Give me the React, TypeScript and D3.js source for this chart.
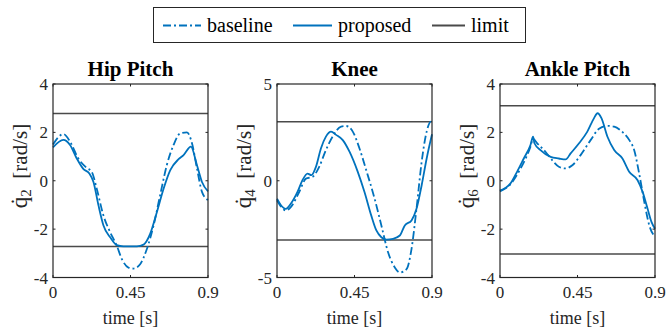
import React from 'react';
import * as d3 from 'd3';

// [time s, joint velocity rad/s]
const hipBaseline: [number, number][] = [
  [0, 1.5], [0.06, 1.93], [0.099, 1.62], [0.147, 0.92], [0.196, 0.53], [0.225, 0.37],
  [0.254, -0.33], [0.293, -1.44], [0.332, -2.13], [0.37, -2.68], [0.4, -3.24],
  [0.438, -3.59], [0.467, -3.63], [0.506, -3.45], [0.545, -2.82], [0.584, -1.85],
  [0.622, -0.6], [0.661, 0.65], [0.7, 1.48], [0.739, 1.96], [0.778, 2.0],
  [0.807, 1.55], [0.836, 0.51], [0.865, -0.46], [0.9, -0.8],
];
const hipProposed: [number, number][] = [
  [0, 1.38], [0.06, 1.69], [0.099, 1.48], [0.138, 0.92], [0.177, 0.48], [0.211, 0.3],
  [0.235, -0.05], [0.264, -1.02], [0.293, -1.85], [0.332, -2.34], [0.37, -2.66],
  [0.409, -2.71], [0.487, -2.71], [0.526, -2.64], [0.564, -2.2], [0.603, -1.3],
  [0.642, -0.33], [0.681, 0.44], [0.729, 0.89], [0.758, 1.06], [0.801, 1.41],
  [0.836, 0.64], [0.865, -0.05], [0.9, -0.44],
];
const kneeBaseline: [number, number][] = [
  [0, -1.01], [0.051, -1.53], [0.08, -1.36], [0.129, -0.58], [0.168, 0.11], [0.206, 0.2],
  [0.245, 0.72], [0.284, 1.59], [0.323, 2.28], [0.372, 2.8], [0.401, 2.83],
  [0.44, 2.54], [0.479, 1.67], [0.518, 0.55], [0.567, -0.93], [0.606, -2.31],
  [0.645, -3.7], [0.684, -4.48], [0.713, -4.74], [0.752, -4.57], [0.781, -3.53],
  [0.81, -1.45], [0.84, 0.98], [0.869, 2.54], [0.894, 3.06], [0.9, 3.0],
];
const kneeProposed: [number, number][] = [
  [0, -0.93], [0.021, -1.24], [0.051, -1.45], [0.08, -1.19], [0.119, -0.58],
  [0.148, 0.03], [0.177, 0.37], [0.2, 0.29], [0.226, 0.72], [0.255, 1.67],
  [0.284, 2.28], [0.314, 2.54], [0.343, 2.37], [0.382, 2.1], [0.421, 1.5],
  [0.469, 0.46], [0.508, -0.58], [0.547, -1.79], [0.577, -2.57], [0.606, -2.92],
  [0.635, -3.04], [0.674, -3.0], [0.713, -2.83], [0.742, -2.31], [0.781, -2.05],
  [0.81, -1.45], [0.84, -0.23], [0.869, 1.15], [0.9, 2.4],
];
const ankleBaseline: [number, number][] = [
  [0, -0.44], [0.06, -0.15], [0.119, 0.5], [0.177, 1.41], [0.192, 1.73], [0.216, 1.55],
  [0.264, 1.2], [0.303, 0.85], [0.342, 0.58], [0.381, 0.51], [0.42, 0.64],
  [0.468, 1.06], [0.527, 1.69], [0.575, 2.15], [0.624, 2.27], [0.663, 2.24],
  [0.702, 2.07], [0.75, 1.69], [0.779, 1.27], [0.808, 0.3], [0.838, -0.88],
  [0.867, -1.85], [0.9, -2.32],
];
const ankleProposed: [number, number][] = [
  [0, -0.41], [0.031, -0.3], [0.06, -0.12], [0.099, 0.37], [0.138, 0.92], [0.177, 1.48],
  [0.192, 1.82], [0.2, 1.55], [0.235, 1.27], [0.294, 0.99], [0.342, 0.92],
  [0.381, 0.88], [0.41, 1.13], [0.459, 1.55], [0.507, 2.03], [0.546, 2.59],
  [0.566, 2.79], [0.589, 2.59], [0.624, 1.82], [0.663, 1.27], [0.711, 0.92],
  [0.75, 0.37], [0.799, 0.02], [0.828, -0.46], [0.857, -1.16], [0.88, -1.71],
  [0.9, -1.98],
];

const titles = ['Hip Pitch', 'Knee', 'Ankle Pitch'];
const jointIndex = ['2', '4', '6'];
const yDomains: [number, number][] = [[-4, 4], [-5, 5], [-4, 4]];
const yTicks = [[-4, -2, 0, 2, 4], [-5, 0, 5], [-4, -2, 0, 2, 4]];
const limits: [number, number][] = [[-2.72, 2.78], [-3.06, 3.05], [-3.03, 3.1]];
const xTicks = [0, 0.45, 0.9];
const xTickLabels = ['0', '0.45', '0.9'];
const baselines = [hipBaseline, kneeBaseline, ankleBaseline];
const proposeds = [hipProposed, kneeProposed, ankleProposed];
const legendLabels = ['baseline', 'proposed', 'limit'];

const BLUE = '#0072BD';
const AXIS = '#262626';
const LIMIT = '#4a4a4a';
const DASH = '8,3,2,3';

const panelLeft = [53, 277, 500];
const panelWidth = 155;
const top = 84;
const bottom = 277.5;

const Panel: React.FC<{ i: number }> = ({ i }) => {
  const left = panelLeft[i];
  const x = d3.scaleLinear().domain([0, 0.9]).range([left, left + panelWidth]);
  const y = d3.scaleLinear().domain(yDomains[i]).range([bottom, top]);
  const line = d3
    .line<[number, number]>()
    .x(d => x(d[0]))
    .y(d => y(d[1]))
    .curve(d3.curveMonotoneX);

  return (
    <g>
      {limits[i].map(v => (
        <line key={v} x1={x(0)} x2={x(0.9)} y1={y(v)} y2={y(v)} stroke={LIMIT} strokeWidth={1.6} />
      ))}
      <path d={line(baselines[i]) || ''} fill="none" stroke={BLUE} strokeWidth={1.8} strokeDasharray={DASH} />
      <path d={line(proposeds[i]) || ''} fill="none" stroke={BLUE} strokeWidth={1.8} />
      <rect x={left} y={top} width={panelWidth} height={bottom - top} fill="none" stroke={AXIS} strokeWidth={1.2} />

      {yTicks[i].map(v => (
        <g key={v}>
          <line x1={left} x2={left + 2.5} y1={y(v)} y2={y(v)} stroke={AXIS} />
          <line x1={left + panelWidth} x2={left + panelWidth - 2.5} y1={y(v)} y2={y(v)} stroke={AXIS} />
          <text x={left - 5} y={y(v) + 6} textAnchor="end" fontSize={17} fill={AXIS}>
            {String(v)}
          </text>
        </g>
      ))}

      {xTicks.map((v, k) => (
        <g key={v}>
          <line x1={x(v)} x2={x(v)} y1={bottom} y2={bottom - 2.5} stroke={AXIS} />
          <line x1={x(v)} x2={x(v)} y1={top} y2={top + 2.5} stroke={AXIS} />
          <text x={x(v)} y={298} textAnchor="middle" fontSize={17} fill={AXIS}>
            {xTickLabels[k]}
          </text>
        </g>
      ))}

      <text x={left + panelWidth / 2} y={324} textAnchor="middle" fontSize={18} fill={AXIS}>
        time [s]
      </text>
      <text x={left + panelWidth / 2} y={76} textAnchor="middle" fontSize={21} fontWeight="bold" fill="#000">
        {titles[i]}
      </text>
      <text
        transform={`translate(${left - 26},166) rotate(-90)`}
        textAnchor="middle"
        fontSize={21}
        fill={AXIS}
      >
        <tspan fontSize={23}>{'q\u0307'}</tspan>
        <tspan fontSize={15} dy={4}>{jointIndex[i]}</tspan>
        <tspan dy={-4}>{'\u2002[rad/s]'}</tspan>
      </text>
    </g>
  );
};

const App: React.FC = () => {
  const sampleX = [163, 293, 432];
  const sampleW = [38, 39, 33];
  const styles = [
    { c: BLUE, dash: DASH },
    { c: BLUE, dash: undefined },
    { c: LIMIT, dash: undefined },
  ];
  return (
    <svg
      width={667}
      height={331}
      style={{ position: 'absolute', left: 0, top: 0, background: '#fff' }}
      fontFamily="Liberation Serif"
    >
      <rect x={153.5} y={7.5} width={372} height={35} fill="#fff" stroke={AXIS} strokeWidth={1} />
      {legendLabels.map((lab, i) => (
        <g key={lab}>
          <line
            x1={sampleX[i]}
            x2={sampleX[i] + sampleW[i]}
            y1={25.5}
            y2={25.5}
            stroke={styles[i].c}
            strokeWidth={1.8}
            strokeDasharray={styles[i].dash}
          />
          <text x={sampleX[i] + sampleW[i] + 6} y={32} fontSize={20} fill="#000">
            {lab}
          </text>
        </g>
      ))}
      {titles.map((t, i) => (
        <Panel key={t} i={i} />
      ))}
    </svg>
  );
};

export default App;
